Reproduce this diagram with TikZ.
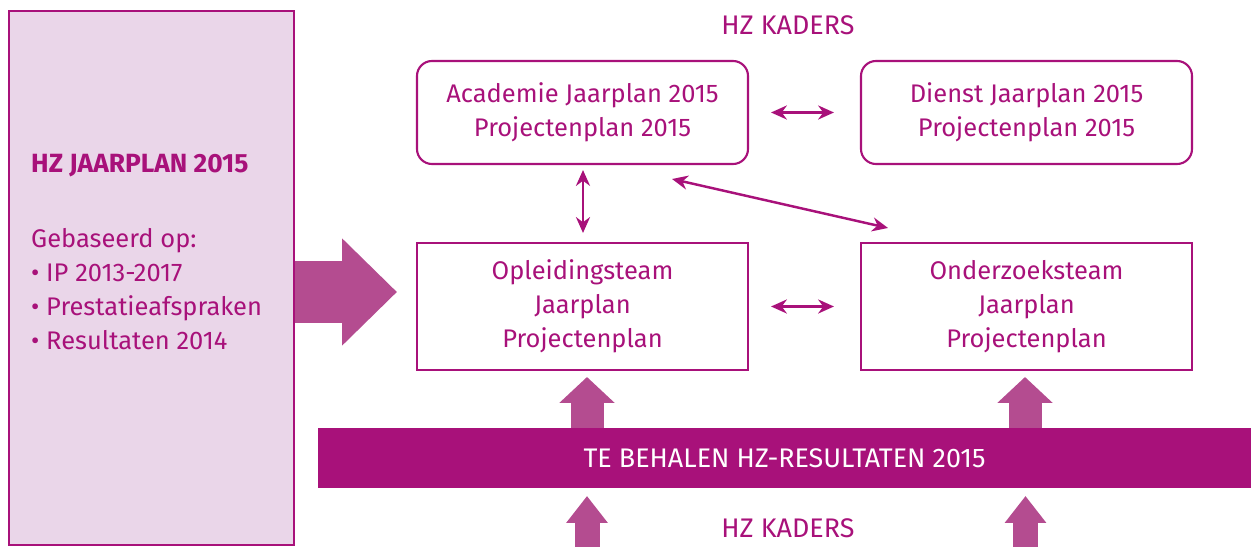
\documentclass[tikz,border=0pt]{standalone}
\usepackage{fontspec}
\setmainfont{Fira Sans}
\usetikzlibrary{arrows.meta,calc}
\definecolor{hzpaars}{RGB}{168,17,122}
\definecolor{hzlicht}{RGB}{234,214,233}
\definecolor{hzpijl}{RGB}{180,76,144}
\tikzset{
 blok/.style={draw=hzpaars,line width=1.2pt,text=hzpaars,align=center,minimum width=6.62cm,font=\fontsize{14.5}{19.5}\selectfont},
 kapitaal/.style={font=\fontsize{15.3}{19}\selectfont},
 dubbel/.style={<->,>={Stealth[length=9pt,width=8pt]},draw=hzpaars,line width=1.4pt},
 dikpijl/.style 2 args={draw=hzpijl,-{Triangle[width=#1,length=#2]}},
}
\begin{document}
\begin{tikzpicture}
\useasboundingbox (0,0) rectangle (25.02,10.94);
\node[draw=hzpaars,fill=hzlicht,line width=1.2pt,minimum width=5.7cm,minimum height=10.68cm] (links) at (3.03,5.38) {}; %linkerblok
\node[anchor=west,text=hzpaars,font=\fontsize{15}{19}\selectfont\bfseries] (titel) at (0.5,7.62) {HZ JAARPLAN 2015};
\node[anchor=west,text=hzpaars,align=left,font=\fontsize{14.5}{19.3}\selectfont] (basis) at (0.5,5.16) {Gebaseerd op:\\• IP 2013-2017\\• Prestatieafspraken\\• Resultaten 2014};
\node[blok,rounded corners=0.3cm,minimum height=2.06cm] (aca) at (11.65,8.69) {Academie Jaarplan 2015\\Projectenplan 2015};
\node[blok,rounded corners=0.3cm,minimum height=2.06cm] (dienst) at (20.53,8.69) {Dienst Jaarplan 2015\\Projectenplan 2015};
\node[blok,minimum height=2.54cm] (opl) at (11.65,4.81) {Opleidingsteam\\Jaarplan\\Projectenplan};
\node[blok,minimum height=2.54cm] (ond) at (20.53,4.81) {Onderzoeksteam\\Jaarplan\\Projectenplan};
\node[kapitaal,fill=hzpaars,text=white,minimum width=18.66cm,minimum height=1.2cm] (balk) at (15.69,1.78) {TE BEHALEN HZ-RESULTATEN 2015};
\node[kapitaal,text=hzpaars] (kaderboven) at (15.76,10.44) {HZ KADERS};
\node[kapitaal,text=hzpaars] (kaderonder) at (15.76,0.38) {HZ KADERS};
% dubbele pijlen
\draw[dubbel,shorten <=0.44cm,shorten >=0.52cm] (aca.east) -- (dienst.west);
\draw[dubbel,shorten <=0.44cm,shorten >=0.52cm] (opl.east) -- (ond.west);
\draw[dubbel,shorten <=0.1cm,shorten >=0.18cm] (aca.south -| 11.66,0) -- (opl.north -| 11.66,0);
\coordinate (d1) at (13.44,7.36);
\coordinate (d2) at (17.76,6.38);
\draw[dubbel] (d1) -- (d2);
% dikke pijlen
\coordinate (p1) at (7.94,5.10);
\draw[dikpijl={2.08cm}{1.1cm},line width=1.24cm] (links.east |- p1) -- (p1);
\coordinate (o1) at (11.74,3.40);
\coordinate (o2) at (20.50,3.40);
\draw[dikpijl={1.08cm}{0.52cm},line width=0.66cm] (balk.north -| o1) -- (o1);
\draw[dikpijl={1.08cm}{0.52cm},line width=0.66cm] (balk.north -| o2) -- (o2);
\coordinate (k1) at (11.74,1.02);
\coordinate (k2) at (20.51,1.02);
\draw[dikpijl={0.8cm}{0.54cm},line width=0.5cm] (11.74,0) -- (k1);
\draw[dikpijl={0.8cm}{0.54cm},line width=0.5cm] (20.51,0) -- (k2);
\end{tikzpicture}
\end{document}
